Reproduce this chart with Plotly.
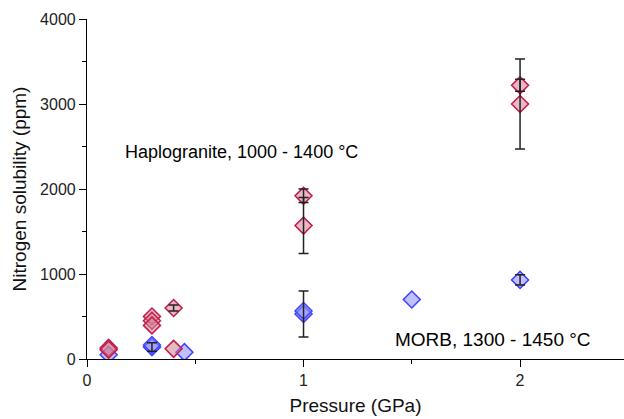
import plotly.graph_objects as go

# Haplogranite melts (1000 - 1400 °C)
hap_p = [0.1, 0.1, 0.3, 0.3, 0.3, 0.4, 0.4, 1.0, 1.0, 2.0, 2.0]
hap_n = [130, 110, 500, 450, 395, 600, 120, 1920, 1570, 3220, 3000]
hap_err = [None, None, None, None, None, 35, None, 80, 330, 70, 530]

# MORB melts (1300 - 1450 °C)
morb_p = [0.1, 0.3, 0.3, 0.45, 1.0, 1.0, 1.5, 2.0]
morb_n = [50, 140, 165, 80, 530, 565, 700, 930]
morb_err = [None, 50, None, None, 270, None, None, 60]

RED_EDGE = "#c21f4b"
RED_FILL = "rgba(210,130,150,0.55)"
BLUE_EDGE = "#4444ff"
BLUE_FILL = "rgba(140,140,255,0.55)"

fig = go.Figure()


def add_series(p, n, edge, fill):
    fig.add_trace(go.Scatter(
        x=p, y=n, mode="markers",
        marker=dict(symbol="diamond", size=13, color=fill,
                    line=dict(color=edge, width=1.6)),
        showlegend=False, hoverinfo="x+y"))


def add_errors(p, n, err):
    xs = [a for a, e in zip(p, err) if e is not None]
    ys = [b for b, e in zip(n, err) if e is not None]
    es = [e for e in err if e is not None]
    fig.add_trace(go.Scatter(
        x=xs, y=ys, mode="markers",
        marker=dict(size=1, opacity=0),
        error_y=dict(type="data", array=es, visible=True,
                     color="#222222", thickness=1.5, width=5),
        showlegend=False, hoverinfo="skip"))


add_series(morb_p, morb_n, BLUE_EDGE, BLUE_FILL)
add_series(hap_p, hap_n, RED_EDGE, RED_FILL)
add_errors(morb_p, morb_n, morb_err)
add_errors(hap_p, hap_n, hap_err)

fig.add_annotation(x=0.165, y=2430, xref="x", yref="y", text="Haplogranite, 1000 - 1400 °C",
                   showarrow=False, xanchor="left", yanchor="middle",
                   font=dict(size=18, color="#000000"))
fig.add_annotation(x=1.413, y=230, xref="x", yref="y", text="MORB, 1300 - 1450 °C",
                   showarrow=False, xanchor="left", yanchor="middle",
                   font=dict(size=19, color="#000000"))

axis_common = dict(
    showgrid=False, zeroline=False, showline=True, linecolor="#000000", linewidth=1.2,
    ticks="outside", ticklen=7, tickwidth=1.2, tickcolor="#000000",
    tickfont=dict(size=16, color="#222222"),
    minor=dict(ticks="outside", ticklen=4, tickwidth=1.2, tickcolor="#000000"),
)

fig.update_xaxes(range=[0, 2.48], tickvals=[0, 1, 2], ticktext=["0", "1", "2"],
                 title=dict(text="Pressure (GPa)", font=dict(size=19, color="#111111"), standoff=10),
                 **axis_common)
fig.update_xaxes(minor=dict(tickvals=[0.5, 1.5]))
fig.update_yaxes(range=[0, 4000], tickvals=[0, 1000, 2000, 3000, 4000],
                 title=dict(text="Nitrogen solubility (ppm)", font=dict(size=19, color="#111111"), standoff=8),
                 **axis_common)
fig.update_yaxes(minor=dict(tickvals=[500, 1500, 2500, 3500]))

fig.update_layout(
    width=624, height=419,
    margin=dict(l=87, r=0, t=19, b=60),
    plot_bgcolor="white", paper_bgcolor="white",
    font=dict(family="Liberation Sans, Arial, sans-serif"),
)

fig.write_html("out.html")
